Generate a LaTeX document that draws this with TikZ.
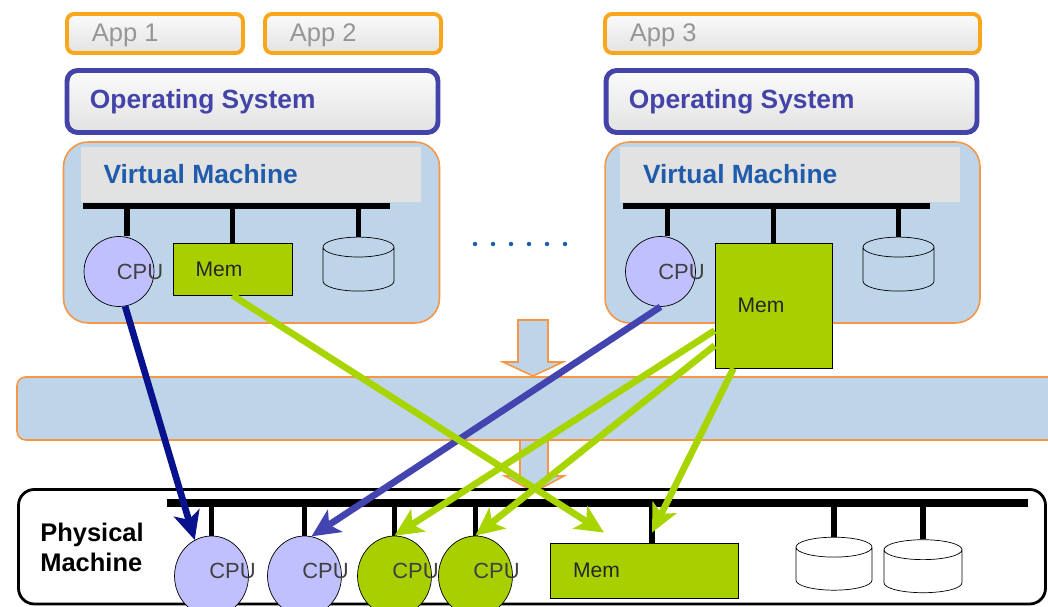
\documentclass[tikz,border=0pt]{standalone}
\usepackage{fontspec}
\setmainfont{Liberation Sans}
\usetikzlibrary{shapes.geometric,arrows.meta}

\definecolor{apporange}{RGB}{250,166,26}
\definecolor{appfill}{RGB}{226,226,226}
\definecolor{appgray}{RGB}{150,150,150}
\definecolor{osblue}{RGB}{68,68,168}
\definecolor{vmfill}{RGB}{190,213,233}
\definecolor{vmline}{RGB}{247,150,70}
\definecolor{hdrgray}{RGB}{226,226,226}
\definecolor{vmblue}{RGB}{32,92,172}
\definecolor{cpublue}{RGB}{192,192,255}
\definecolor{memgreen}{RGB}{168,208,0}
\definecolor{navy}{RGB}{8,18,140}
\definecolor{midblue}{RGB}{68,68,176}
\definecolor{limegreen}{RGB}{168,212,0}

\begin{document}
\begin{tikzpicture}[x=0.02cm, y=-0.02cm,
	app/.style={draw=apporange, line width=2.2pt, rounded corners=4pt, top color=white!97!gray, bottom color=appfill, minimum height=0.78cm},
	apptext/.style={anchor=west, inner sep=0pt, xshift=0.53cm, yshift=-0.04cm, text=appgray, font=\fontsize{14.5}{16}\selectfont},
	os/.style={draw=osblue, line width=2.8pt, rounded corners=6pt, top color=white!97!gray, bottom color=appfill, minimum width=7.42cm, minimum height=1.24cm},
	ostext/.style={anchor=west, inner sep=0pt, xshift=0.5cm, text=osblue, font=\fontsize{15}{17}\selectfont\bfseries},
	vm/.style={draw=vmline, line width=0.9pt, rounded corners=14pt, fill=vmfill, minimum width=7.52cm, minimum height=3.62cm},
	vmhead/.style={fill=hdrgray, minimum width=6.82cm, minimum height=1.1cm},
	vmtext/.style={anchor=west, inner sep=0pt, xshift=0.46cm, text=vmblue, font=\fontsize{15}{17}\selectfont\bfseries},
	bus/.style={line width=3.4pt},
	stub/.style={line width=3.4pt},
	cpu/.style={circle, draw, thin, fill=cpublue, minimum size=1.4cm, inner sep=0pt},
	pcpu/.style={ellipse, draw, thin, minimum width=1.48cm, minimum height=1.6cm, inner sep=0pt},
	cputext/.style={xshift=0.42cm, inner sep=0pt, text=black!75, font=\fontsize{12.5}{14}\selectfont},
	mem/.style={draw, thin, fill=memgreen},
	memtext/.style={anchor=west, inner sep=0pt, xshift=0.45cm, text=black!85, font=\fontsize{12}{14}\selectfont},
	disk/.style={cylinder, shape border rotate=90, draw, thin, aspect=1.7, minimum width=1.42cm, minimum height=1.08cm},
	blockarrow/.style={draw=vmline, line width=0.9pt, fill=vmfill},
	link/.style={line width=3.8pt, -{Stealth[length=16pt, width=15pt, inset=4pt]}}
	]
	\useasboundingbox (0,0) rectangle (1048,607);
	\clip (0,0) rectangle (1048,607);

	% applications and operating systems
	\draw (155,33.5) node[app, minimum width=3.52cm, label={[apptext]west:App 1}] (app1) {};
	\draw (353,33.5) node[app, minimum width=3.52cm, label={[apptext]west:App 2}] (app2) {};
	\draw (792.5,33.5) node[app, minimum width=7.5cm, label={[apptext]west:App 3}] (app3) {};
	\draw (252.5,101.5) node[os, label={[ostext]west:Operating System}] (osA) {};
	\draw (791.5,101.5) node[os, label={[ostext]west:Operating System}] (osB) {};

	% first virtual machine
	\draw (251.5,232.5) node[vm] (vmA) {};
	\draw (251,174.5) node[vmhead, label={[vmtext]west:Virtual Machine}] (hdrA) {};
	\coordinate (vbusA) at (83,206);
	\coordinate (vbusA2) at (390,206);
	\draw[bus] (vbusA) -- (vbusA2);
	\draw (119,271.5) node[cpu, label={[cputext]center:CPU}] (vcpuA) {};
	\draw (232.5,269) node[mem, minimum width=2.38cm, minimum height=1.04cm, label={[memtext]west:Mem}] (vmemA) {};
	\draw (358.5,272) node[disk] (vdiskA) {};
	\draw[stub] ([xshift=0.16cm]vcpuA.north) -- ([xshift=0.16cm]vcpuA.north |- vbusA);
	\draw[stub] (vmemA.north) -- (vmemA.north |- vbusA);
	\draw[stub] (vdiskA.north) -- (vdiskA.north |- vbusA);

	% second virtual machine
	\draw (792.5,232.5) node[vm, minimum width=7.5cm] (vmB) {};
	\draw (790,174.5) node[vmhead, minimum width=6.8cm, label={[vmtext]west:Virtual Machine}] (hdrB) {};
	\coordinate (vbusB) at (623,206);
	\coordinate (vbusB2) at (930,206);
	\draw[bus] (vbusB) -- (vbusB2);
	\draw (660.5,271.5) node[cpu, label={[cputext]center:CPU}] (vcpuB) {};
	\draw[stub] ([xshift=0.14cm]vcpuB.north) -- ([xshift=0.14cm]vcpuB.north |- vbusB);
	\draw (773.5,305.5) node[mem, minimum width=2.34cm, minimum height=2.5cm, label={[memtext]west:Mem}] (vmemB) {};
	\draw (898.5,272) node[disk] (vdiskB) {};
	\draw[stub] (vmemB.north) -- (vmemB.north |- vbusB);
	\draw[stub] (vdiskB.north) -- (vdiskB.north |- vbusB);

	\foreach \x in {475,493,511,529,547,565}
		\fill[vmblue] (\x,244) circle (0.045cm);

	% hypervisor layer
	\draw[blockarrow] (518,320) -- (548,320) -- (548,362) -- (563,362) -- (533,376) -- (503,362) -- (518,362) -- cycle;
	\draw[blockarrow, rounded corners=5pt] (17,377) rectangle (1080,440);
	\draw[blockarrow] (520,440) -- (548,440) -- (548,476) -- (564,476) -- (534,492) -- (505,476) -- (520,476) -- cycle;

	% physical machine
	\draw[line width=1.6pt, rounded corners=9pt, fill=white] (18.5,489.5) rectangle (1045.5,604);
	\draw (40,547.5) node[anchor=west, align=left, inner sep=0pt, font=\fontsize{14.5}{17}\selectfont\bfseries] (pmlabel) {Physical\\Machine};
	\coordinate (pbus) at (167,503);
	\coordinate (pbus2) at (1028,503);
	\draw[line width=4.5pt] (pbus) -- (pbus2);
	\draw (211.5,576) node[pcpu, fill=cpublue, label={[cputext, yshift=0.1cm]center:CPU}] (pcpuA) {};
	\draw (304.5,576) node[pcpu, fill=cpublue, label={[cputext, yshift=0.1cm]center:CPU}] (pcpuB) {};
	\draw (394.5,576) node[pcpu, fill=memgreen, label={[cputext, yshift=0.1cm]center:CPU}] (pcpuC) {};
	\draw (475.5,576) node[pcpu, fill=memgreen, label={[cputext, yshift=0.1cm]center:CPU}] (pcpuD) {};
	\draw (644,570.5) node[mem, minimum width=3.76cm, minimum height=1.1cm, label={[memtext, xshift=0.01cm]west:Mem}] (pmem) {};
	\draw (834,571.5) node[disk, minimum width=1.52cm, minimum height=1.06cm] (pdiskA) {};
	\draw (923,574) node[disk, minimum width=1.56cm, minimum height=1.06cm] (pdiskB) {};
	\foreach \n in {pcpuA,pcpuB,pcpuC,pcpuD,pdiskA,pdiskB}
		\draw[stub] (\n.north) -- (\n.north |- pbus);
	\draw[stub] ([xshift=0.16cm]pmem.north) -- ([xshift=0.16cm]pmem.north |- pbus);

	% mappings
	\draw[link, navy] (vcpuA.-80) to (pcpuA.115);
	\draw[link, midblue] (vcpuB.south) to (pcpuB.80);
	\draw[link, limegreen] (vmemA.south) to ([xshift=-0.8cm, yshift=0.2cm]pmem.north);
	\draw[link, limegreen] ([yshift=-0.5cm]vmemB.west) to (pcpuC.north);
	\draw[link, limegreen] ([yshift=-0.8cm]vmemB.west) to (pcpuD.north);
	\draw[link, limegreen] ([xshift=-0.8cm]vmemB.south) to ([xshift=0.16cm, yshift=0.2cm]pmem.north);
\end{tikzpicture}
\end{document}
